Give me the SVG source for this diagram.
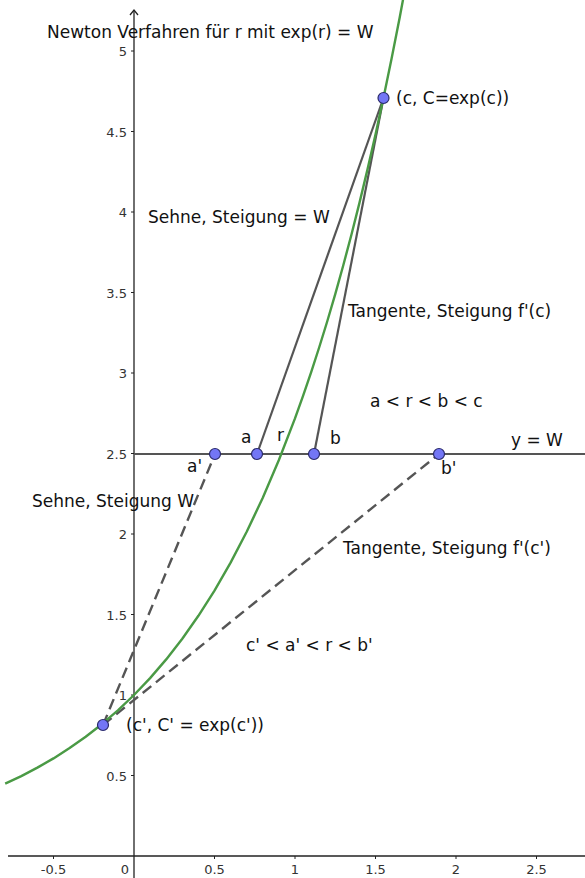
<svg xmlns="http://www.w3.org/2000/svg" width="585" height="878" viewBox="0 0 585 878">
<style>
.axis{stroke:#222;stroke-width:1.3;fill:none}
.tick{stroke:#222;stroke-width:1}
.tl{font-family:"DejaVu Sans","Liberation Sans",sans-serif;font-size:13px;fill:#333}
.lbl{font-family:"DejaVu Sans","Liberation Sans",sans-serif;font-size:17px;fill:#111}
.seg{stroke:#555;stroke-width:2.2;fill:none}
.dash{stroke:#555;stroke-width:2.4;fill:none;stroke-dasharray:11 6}
.curve{stroke:#4a9a45;stroke-width:2.4;fill:none;stroke-linejoin:round}
.pt{fill:#7376f5;stroke:#2a2a6a;stroke-width:1.2}
</style>
<rect width="585" height="878" fill="#fff"/>
<g id="axes">
<line class="axis" x1="8" y1="856" x2="585" y2="856"/>
<line class="axis" x1="134" y1="878" x2="134" y2="11"/>
<polyline class="axis" points="130,15 134,10 138,15"/>
<g class="tick">
<line x1="131" y1="51" x2="134" y2="51"/>
<line x1="131" y1="131.5" x2="134" y2="131.5"/>
<line x1="131" y1="212" x2="134" y2="212"/>
<line x1="131" y1="292.5" x2="134" y2="292.5"/>
<line x1="131" y1="373" x2="134" y2="373"/>
<line x1="131" y1="453.5" x2="134" y2="453.5"/>
<line x1="131" y1="534" x2="134" y2="534"/>
<line x1="131" y1="614.5" x2="134" y2="614.5"/>
<line x1="131" y1="695" x2="134" y2="695"/>
<line x1="131" y1="775.5" x2="134" y2="775.5"/>
<line x1="53.5" y1="856" x2="53.5" y2="859"/>
<line x1="214.5" y1="856" x2="214.5" y2="859"/>
<line x1="295" y1="856" x2="295" y2="859"/>
<line x1="375.5" y1="856" x2="375.5" y2="859"/>
<line x1="456" y1="856" x2="456" y2="859"/>
<line x1="536.5" y1="856" x2="536.5" y2="859"/>
</g>
<g class="tl" text-anchor="end">
<text x="127" y="56">5</text>
<text x="127" y="136.5">4.5</text>
<text x="127" y="217">4</text>
<text x="127" y="297.5">3.5</text>
<text x="127" y="378">3</text>
<text x="127" y="458.5">2.5</text>
<text x="127" y="539">2</text>
<text x="127" y="619.5">1.5</text>
<text x="127" y="700">1</text>
<text x="127" y="780.5">0.5</text>
<text x="129" y="874">0</text>
</g>
<g class="tl" text-anchor="middle">
<text x="53.5" y="874">-0.5</text>
<text x="214.5" y="874">0.5</text>
<text x="295" y="874">1</text>
<text x="375.5" y="874">1.5</text>
<text x="456" y="874">2</text>
<text x="536.5" y="874">2.5</text>
</g>
</g>
<g id="connectors">
<line id="line-yW" class="seg" x1="134" y1="454" x2="585" y2="454"/>
<line id="chord-c-a" class="seg" x1="383.5" y1="98" x2="257" y2="454"/>
<line id="tangent-c-b" class="seg" x1="383.5" y1="98" x2="314" y2="454"/>
<line id="chord-c'-a'" class="dash" x1="103" y1="725" x2="215" y2="454"/>
<line id="tangent-c'-b'" class="dash" x1="103" y1="725" x2="439" y2="454"/>
</g>
<g id="curve-exp">
<polyline class="curve" points="5.2,783.7 21.3,776.1 37.4,767.6 53.5,758.4 69.6,748.1 85.7,736.7 101.8,724.2 117.9,710.3 134,695 150.1,678.1 166.2,659.4 182.3,638.7 198.4,615.8 214.5,590.6 230.6,562.6 246.7,531.8 262.8,497.7 278.9,460 295,418.4 303.05,395.9 311.1,372.3 319.15,347.5 327.2,321.5 335.25,294.1 343.3,265.2 351.35,235 359.4,203.1 367.45,169.6 375.5,134.4 383.55,97.5 391.6,58.6 399.65,17.7 407.7,-25.3"/>
</g>
<g id="node-c"><circle class="pt" cx="383.5" cy="98" r="5.5"/><text class="lbl" x="396" y="104">(c, C=exp(c))</text></g>
<g id="node-a"><circle class="pt" cx="257" cy="454" r="5.5"/><text class="lbl" x="241" y="443">a</text></g>
<g id="node-b"><circle class="pt" cx="314" cy="454" r="5.5"/><text class="lbl" x="330" y="444">b</text></g>
<g id="node-a2"><circle class="pt" cx="215" cy="454" r="5.5"/><text class="lbl" x="187" y="472">a'</text></g>
<g id="node-b2"><circle class="pt" cx="439" cy="454" r="5.5"/><text class="lbl" x="441" y="474">b'</text></g>
<g id="node-c2"><circle class="pt" cx="103" cy="725" r="5.5"/><text class="lbl" x="126" y="731">(c', C' = exp(c'))</text></g>
<g id="labels" class="lbl">
<text x="47" y="38">Newton Verfahren für r mit exp(r) = W</text>
<text x="148" y="223">Sehne, Steigung = W</text>
<text x="348" y="317">Tangente, Steigung f'(c)</text>
<text x="370" y="407">a &lt; r &lt; b &lt; c</text>
<text x="277" y="441">r</text>
<text x="511" y="446">y = W</text>
<text x="32" y="507">Sehne, Steigung W</text>
<text x="343" y="554">Tangente, Steigung f'(c')</text>
<text x="246" y="651">c' &lt; a' &lt; r &lt; b'</text>
</g>
</svg>
